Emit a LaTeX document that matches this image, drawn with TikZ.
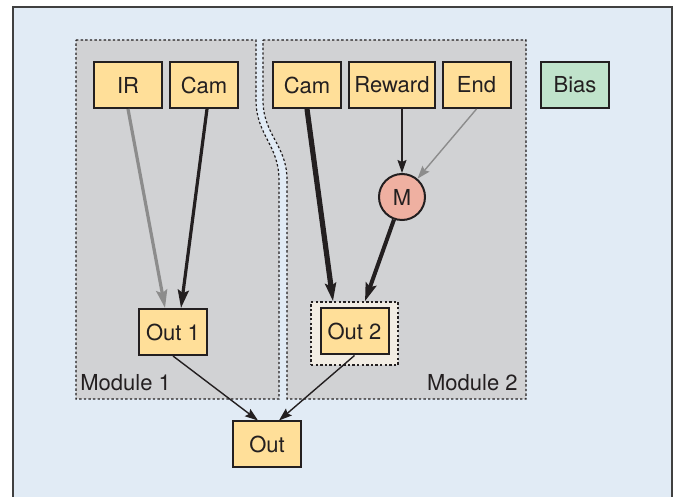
\documentclass[tikz,border=0pt]{standalone}
\usepackage{fontspec}
\setmainfont{TeX Gyre Heros}
\usetikzlibrary{arrows.meta}

\definecolor{panelbg}{HTML}{E1EBF5}
\definecolor{modgray}{HTML}{D1D2D4}
\definecolor{boxyel}{HTML}{FFDF99}
\definecolor{biasgrn}{HTML}{C0E3CB}
\definecolor{modsalmon}{HTML}{EFB0A1}
\definecolor{hlbeige}{HTML}{F2EDE4}
\definecolor{inkdark}{HTML}{231F20}

\begin{document}
\begin{tikzpicture}[
	x=0.5pt, y=-0.5pt,
	font=\fontsize{11}{13}\selectfont, text=inkdark,
	unit/.style={ draw=inkdark, line width=1pt, fill=boxyel, minimum width=34pt, minimum height=23pt, inner sep=0pt },
	modbox/.style={ draw=inkdark, fill=modgray, line width=0.6pt, dash pattern=on 1.2pt off 1.1pt },
	wire/.style={ draw=inkdark, line width=0.7pt, -{Stealth[length=6.5pt,width=4.5pt,inset=1pt]} },
	bold/.style={ draw=inkdark, line width=1.6pt, -{Stealth[length=9pt,width=5.5pt,inset=1.5pt]} },
	faint/.style={ draw=black!45, line width=1.6pt, -{Stealth[length=9pt,width=5.5pt,inset=1.5pt]} }
]

\useasboundingbox (0,0) rectangle (676,497);
\filldraw[fill=panelbg, draw=black!75, line width=1pt] (13,7) rectangle (672,510);

% the two modules, split by a bent gap
\path[modbox] (76,40) -- (256,40) -- (256,100)
  .. controls (256,135) and (279,145) .. (279,180) -- (279,399) -- (76,399) -- cycle;
\path[modbox] (263,40) -- (526,40) -- (526,399) -- (287,399) -- (287,180)
  .. controls (287,145) and (263,135) .. (263,100) -- cycle;
\node at (80,383) (mod1) [anchor=west, inner sep=0pt] {Module 1};
\node at (518,383) (mod2) [anchor=east, inner sep=0pt] {Module 2};

\node at (128,85) (ir) [unit] {IR};
\node at (204,85) (cama) [unit] {Cam};
\node at (307,85) (camb) [unit] {Cam};
\node at (392,85) (reward) [unit, minimum width=43pt] {Reward};
\node at (476.5,85) (stop) [unit] {End};
\node at (575,85) (bias) [unit, fill=biasgrn] {Bias};
\node at (402,197) (m) [circle, draw=inkdark, line width=1pt, fill=modsalmon, minimum size=23pt, inner sep=0pt] {M};

\node at (354.5,333.5) (hl) [modbox, fill=hlbeige, line width=0.8pt, minimum width=43.5pt, minimum height=31.5pt] {};
\node at (173,332) (outa) [unit] {Out 1};
\node at (354.5,331.5) (outb) [unit] {Out 2};
\node at (267,444.5) (out) [unit] {Out};

\draw[faint] (ir.south) -- ([xshift=-4pt]outa.north);
\draw[bold] ([xshift=1.5pt]cama.south) -- ([xshift=4pt]outa.north);
\draw[bold, line width=2.6pt] (camb.south) -- ([xshift=-10.75pt]hl.north);
\draw[bold, line width=2pt] (m) -- ([xshift=5.25pt]hl.north);
\draw[wire] (reward.south -| m) -- (m);
\draw[wire, draw=black!45] (stop.south) -- (m);
\draw[wire] (outa.south) -- ([xshift=-4.5pt]out.north);
\draw[wire] (outb.south) -- ([xshift=6pt]out.north);

\end{tikzpicture}
\end{document}
